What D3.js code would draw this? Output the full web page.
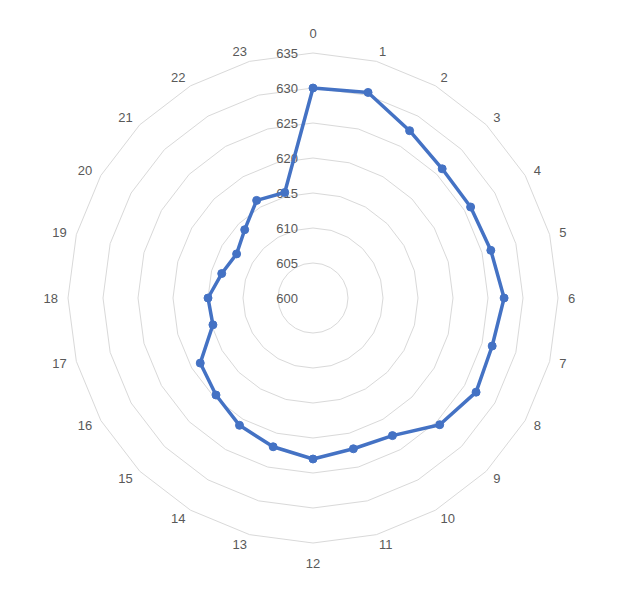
<!DOCTYPE html>
<html><head><meta charset="utf-8">
<script src="https://cdn.jsdelivr.net/npm/d3@7"></script>
<style>body{margin:0;background:#fff}svg{display:block}</style>
</head><body>
<script>
const categories = ["0","1","2","3","4","5","6","7","8","9","10","11","12","13","14","15","16","17","18","19","20","21","22","23"];
const values = [630.0,630.4,627.6,626.1,626.0,626.3,627.3,626.5,626.9,625.6,622.7,622.3,623.0,622.0,621.0,619.6,618.6,614.8,615.0,613.5,612.6,613.8,616.1,615.6];
const ticks = [600,605,610,615,620,625,630,635];

const W = 633, H = 607, cx = 313, cy = 298, R = 245;
const svg = d3.select("body").append("svg").attr("width", W).attr("height", H);
const r = d3.scaleLinear().domain([600, 635]).range([0, R]);
const ang = d3.scaleLinear().domain([0, categories.length]).range([0, 2 * Math.PI]);
const pt = (i, rad) => [cx + rad * Math.sin(ang(i)), cy - rad * Math.cos(ang(i))];

// grid rings
const g = svg.append("g");
ticks.filter(t => t > 600).forEach(t => {
  g.append("polygon")
    .attr("points", categories.map((c, i) => pt(i, r(t)).join(",")).join(" "))
    .attr("fill", "none").attr("stroke", "#d9d9d9").attr("stroke-width", 1);
});

// value labels
svg.append("g").selectAll("text").data(ticks).join("text")
  .attr("x", cx - 15).attr("y", d => cy - r(d))
  .attr("text-anchor", "end").attr("dominant-baseline", "central")
  .attr("font-family", "Liberation Sans, Arial, sans-serif").attr("font-size", 13)
  .attr("fill", "#595959").text(d => d);

// category labels
svg.append("g").selectAll("text").data(categories).join("text")
  .each(function(d, i) {
    const a = ang(i), s = Math.sin(a);
    const vertical = Math.abs(s) < 0.01;
    const p = pt(i, vertical ? R + 20 : R + 10);
    d3.select(this).attr("x", p[0]).attr("y", p[1])
      .attr("text-anchor", vertical ? "middle" : (s > 0 ? "start" : "end"));
  })
  .attr("dominant-baseline", "central")
  .attr("font-family", "Liberation Sans, Arial, sans-serif").attr("font-size", 13)
  .attr("fill", "#595959").text(d => d);

// series
const line = d3.lineRadial().angle((d, i) => ang(i)).radius(d => r(d)).curve(d3.curveLinearClosed);
svg.append("path").datum(values)
  .attr("transform", `translate(${cx},${cy})`)
  .attr("d", line).attr("fill", "none").attr("stroke", "#4472C4")
  .attr("stroke-width", 3.5).attr("stroke-linejoin", "round");
svg.append("g").selectAll("circle").data(values).join("circle")
  .attr("cx", (d, i) => pt(i, r(d))[0]).attr("cy", (d, i) => pt(i, r(d))[1])
  .attr("r", 4).attr("fill", "#4472C4").attr("stroke", "#4472C4").attr("stroke-width", 1);
</script>
</body></html>
